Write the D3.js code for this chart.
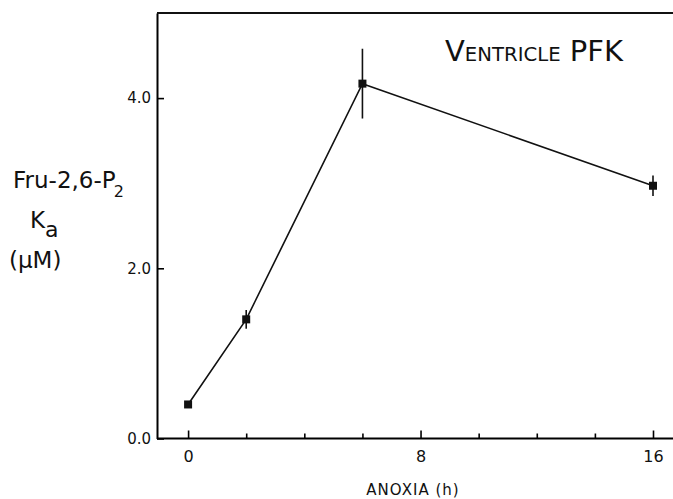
<!DOCTYPE html>
<html>
<head>
<meta charset="utf-8">
<script src="https://cdn.jsdelivr.net/npm/d3@7"></script>
<style>
  body { margin: 0; background: #fff; }
  svg { display: block; }
  text { font-family: "DejaVu Sans", sans-serif; fill: #111; }
</style>
</head>
<body>
<div id="chart"></div>
<script>
// data
const hours = [0, 2, 6, 16];
const kaValues = [0.4, 1.4, 4.17, 2.97];
const kaErrors = [0, 0.11, 0.41, 0.12];
const yTicks = [0, 2, 4];
const yTickLabels = ["0.0", "2.0", "4.0"];
const xTicks = [0, 2, 4, 6, 8, 10, 12, 14, 16];
const xMajor = [0, 8, 16];

const width = 673, height = 499;

const svg = d3.select("#chart").append("svg")
    .attr("width", width)
    .attr("height", height);

// scales (the frame runs off the right edge of the page)
const x = d3.scaleLinear().domain([-1.07, 16]).range([157, 653]);
const y = d3.scaleLinear().domain([0, 5]).range([438.5, 13]);

// y axis, ticks pointing inwards
const yAxis = d3.axisLeft(y)
    .tickValues(yTicks)
    .tickFormat((d, i) => yTickLabels[i])
    .tickSizeInner(-7)
    .tickSizeOuter(0)
    .tickPadding(6);

svg.append("g")
    .attr("transform", `translate(${x(-1.07)},0)`)
    .call(yAxis)
    .call(g => g.select(".domain").attr("stroke-width", 2))
    .call(g => g.selectAll(".tick line").attr("stroke-width", 1.6))
    .call(g => g.selectAll("text")
        .attr("font-size", "15px")
        .attr("font-family", "DejaVu Sans"));

// x axis
const xAxis = d3.axisBottom(x)
    .tickValues(xTicks)
    .tickFormat(d => xMajor.includes(d) ? d : "")
    .tickSizeInner(-5)
    .tickSizeOuter(0)
    .tickPadding(12);

svg.append("g")
    .attr("transform", `translate(0,${y(0)})`)
    .call(xAxis)
    .call(g => g.select(".domain").attr("d", `M${x(-1.07)},0H${width + 10}`).attr("stroke-width", 2))
    .call(g => g.selectAll(".tick line")
        .attr("stroke-width", 1.6)
        .attr("y2", d => xMajor.includes(d) ? -8 : -5))
    .call(g => g.selectAll("text")
        .attr("font-size", "16px")
        .attr("font-family", "DejaVu Sans"));

// top frame line
svg.append("line")
    .attr("x1", x(-1.07)).attr("x2", width + 10)
    .attr("y1", y(5)).attr("y2", y(5))
    .attr("stroke", "#111")
    .attr("stroke-width", 2);

const points = hours.map((h, i) => ({ h, v: kaValues[i], e: kaErrors[i] }));

// connecting line
svg.append("path")
    .datum(points)
    .attr("fill", "none")
    .attr("stroke", "#111")
    .attr("stroke-width", 1.6)
    .attr("d", d3.line().x(d => x(d.h)).y(d => y(d.v)));

// error bars
svg.selectAll(".err")
    .data(points.filter(d => d.e > 0))
    .join("line")
    .attr("class", "err")
    .attr("x1", d => x(d.h)).attr("x2", d => x(d.h))
    .attr("y1", d => y(d.v - d.e)).attr("y2", d => y(d.v + d.e))
    .attr("stroke", "#111")
    .attr("stroke-width", 1.6);

// square markers
const ms = 8;
svg.selectAll(".pt")
    .data(points)
    .join("rect")
    .attr("class", "pt")
    .attr("x", d => x(d.h) - ms / 2)
    .attr("y", d => y(d.v) - ms / 2)
    .attr("width", ms)
    .attr("height", ms)
    .attr("fill", "#111");

// title in small caps
const title = svg.append("text")
    .attr("x", 445)
    .attr("y", 61)
    .attr("textLength", 178)
    .attr("lengthAdjust", "spacingAndGlyphs");
title.append("tspan").attr("font-size", "28px").text("V");
title.append("tspan").attr("font-size", "19px").text("ENTRICLE");
title.append("tspan").attr("font-size", "28px").text(" PFK");

// y label
const lab1 = svg.append("text")
    .attr("x", 13).attr("y", 188)
    .attr("font-size", "23px");
lab1.append("tspan").text("Fru-2,6-P");
lab1.append("tspan").attr("font-size", "16px").attr("dx", -2).attr("dy", 9).text("2");

const lab2 = svg.append("text")
    .attr("x", 30).attr("y", 228)
    .attr("font-size", "23px");
lab2.append("tspan").text("K");
lab2.append("tspan").attr("dy", 9).attr("font-size", "22px").text("a");

svg.append("text")
    .attr("x", 9).attr("y", 268)
    .attr("font-size", "23px")
    .text("(μM)");

// x label
svg.append("text")
    .attr("x", 413).attr("y", 495)
    .attr("text-anchor", "middle")
    .attr("font-size", "15px")
    .attr("letter-spacing", "1px")
    .text("ANOXIA (h)");
</script>
</body>
</html>
